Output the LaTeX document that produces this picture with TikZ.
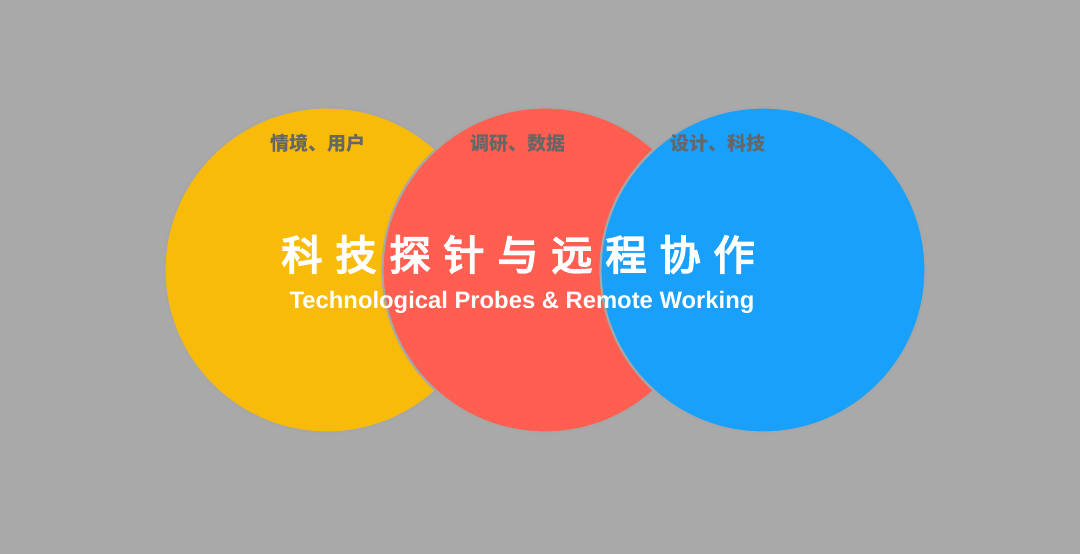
\documentclass[tikz,border=0pt]{standalone}
\usepackage{fontspec}
\setmainfont{Liberation Sans}
\newfontfamily\cjk{Noto Sans CJK SC}
\newfontfamily\cjkmid[FakeBold=4]{Noto Sans CJK SC}
\definecolor{bg}{HTML}{A9A9A9}
\definecolor{edge}{HTML}{A7A7A7}
\definecolor{cyellow}{HTML}{F9BB09}
\definecolor{cred}{HTML}{FF5E50}
\definecolor{cblue}{HTML}{18A0FB}
\definecolor{lblgray}{HTML}{666666}
\tikzset{
  circ/.style={circle, minimum size=325pt, inner sep=0pt, draw=edge, line width=2.2pt},
  lbl/.style={anchor=base, inner sep=0pt, text=lblgray, font=\cjk\bfseries\fontsize{19pt}{19pt}\selectfont},
  ttl/.style={anchor=base, inner sep=0pt, text=white, font=\cjkmid\fontsize{41pt}{41pt}\selectfont},
  eng/.style={anchor=base, inner sep=0pt, text=white, font=\bfseries\fontsize{23.8pt}{23.8pt}\selectfont}
}
\begin{document}
\begin{tikzpicture}[x=1pt,y=-1pt]
\fill[bg] (0,0) rectangle (1080,554);
\useasboundingbox (0,0) rectangle (1080,554);
\node[circ, fill=cyellow] (c1) at (327,270) {};
\node[circ, fill=cred] (c2) at (545,270) {};
\node[circ, fill=cblue] (c3) at (763,270) {};
\node[lbl] (l1) at (318,150.5) {情境、用户};
\node[lbl] (l2) at (518,150.5) {调研、数据};
\node[lbl] (l3) at (718,150.5) {设计、科技};
\foreach \c [count=\i from 0] in {科,技,探,针,与,远,程,协,作}
  \node[ttl] (t\i) at ({302+54*\i},270) {\c};
\node[eng] (en) at (522,308) {Technological Probes \& Remote Working};
\end{tikzpicture}
\end{document}
